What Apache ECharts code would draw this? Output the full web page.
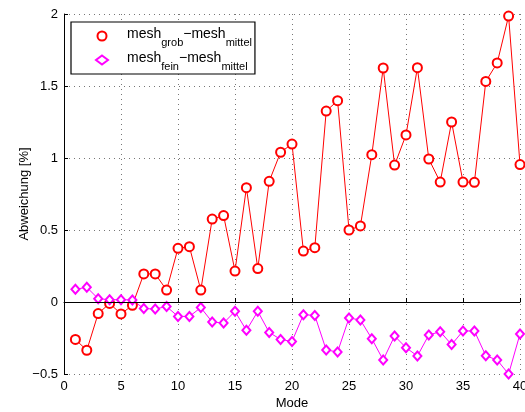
<!DOCTYPE html>
<html>
<head>
<meta charset="utf-8">
<script src="https://cdn.jsdelivr.net/npm/echarts@6/dist/echarts.min.js"></script>
<style>html,body{margin:0;padding:0;background:#fff}#c{width:525px;height:412px}</style>
</head>
<body>
<div id="c"></div>
<script>
const modes = Array.from({length: 40}, (_, i) => i + 1);
const grob = [-0.26, -0.335, -0.08, -0.01, -0.083, -0.023, 0.195, 0.195, 0.083, 0.373,
  0.384, 0.083, 0.576, 0.60, 0.215, 0.794, 0.232, 0.838, 1.04, 1.097,
  0.354, 0.377, 1.326, 1.398, 0.50, 0.528, 1.023, 1.625, 0.951, 1.16,
  1.627, 0.993, 0.833, 1.25, 0.833, 0.831, 1.532, 1.66, 1.986, 0.954];
const fein = [0.088, 0.102, 0.023, 0.016, 0.016, 0.014, -0.046, -0.048, -0.032, -0.10,
  -0.10, -0.039, -0.139, -0.146, -0.065, -0.197, -0.065, -0.211, -0.26, -0.274,
  -0.088, -0.093, -0.333, -0.347, -0.111, -0.125, -0.255, -0.403, -0.236, -0.317,
  -0.375, -0.229, -0.206, -0.296, -0.201, -0.201, -0.373, -0.403, -0.50, -0.222];
const xTicks = [0, 5, 10, 15, 20, 25, 30, 35, 40];
const yTicks = [-0.5, 0, 0.5, 1, 1.5, 2];

const chart = echarts.init(document.getElementById('c'), null, {renderer: 'canvas'});
const fontFam = 'Liberation Sans, Arial, sans-serif';
const rich = {
  a: {fontSize: 14, fontFamily: fontFam, color: '#000', lineHeight: 20, height: 20, verticalAlign: 'top'},
  s: {fontSize: 11, fontFamily: fontFam, color: '#000', lineHeight: 24, verticalAlign: 'bottom'}
};
chart.setOption({
  animation: false,
  grid: {left: 64, right: 5, top: 14, bottom: 38, containLabel: false, outerBoundsMode: 'none'},
  legend: {
    left: 71, top: 22, orient: 'vertical',
    padding: [2, 3, 2, 24],
    itemGap: 0,
    itemWidth: 12, itemHeight: 9,
    borderColor: '#000', borderWidth: 1.2,
    backgroundColor: '#fff',
    data: [
      {name: 'grob', icon: 'emptyCircle'},
      {name: 'fein', icon: 'emptyDiamond'}
    ],
    textStyle: {rich: rich, padding: [0, 0, 0, 14]},
    formatter: function (n) {
      return n === 'grob' ? '{a|mesh}{s|grob}{a|\u2212mesh}{s|mittel}'
                          : '{a|mesh}{s|fein}{a|\u2212mesh}{s|mittel}';
    }
  },
  xAxis: {
    type: 'value', min: 0, max: 40, interval: 5,
    name: 'Mode', nameLocation: 'middle', nameGap: 23, nameMoveOverlap: false,
    nameTextStyle: {fontSize: 13, fontFamily: fontFam, color: '#000'},
    axisLine: {lineStyle: {color: '#000', width: 1}},
    axisTick: {inside: true, length: 4, lineStyle: {color: '#000'}},
    axisLabel: {fontSize: 13, fontFamily: fontFam, color: '#000', margin: 6},
    splitLine: {show: true, lineStyle: {color: '#777', type: [1, 4], width: 1}}
  },
  yAxis: {
    type: 'value', min: -0.5, max: 2, interval: 0.5,
    name: 'Abweichung [%]', nameLocation: 'middle', nameGap: 33, nameMoveOverlap: false,
    nameTextStyle: {fontSize: 13, fontFamily: fontFam, color: '#000'},
    axisLine: {show: true, lineStyle: {color: '#000', width: 1}},
    axisTick: {show: true, inside: true, length: 4, lineStyle: {color: '#000'}},
    axisLabel: {fontSize: 13, fontFamily: fontFam, color: '#000', margin: 6,
      formatter: v => String(v).replace('-', '\u2212')},
    splitLine: {show: true, lineStyle: {color: '#777', type: [1, 4], width: 1}}
  },
  series: [
    {
      name: 'grob', type: 'line',
      data: modes.map((m, i) => [m, grob[i]]),
      symbol: 'emptyCircle', symbolSize: 9,
      lineStyle: {color: '#ff0000', width: 1},
      itemStyle: {color: '#ff0000', borderColor: '#ff0000', borderWidth: 1},
      markLine: {
        silent: true, symbol: 'none', label: {show: false},
        lineStyle: {color: '#000', type: 'solid', width: 1.2},
        data: [{yAxis: 0}]
      },
      z: 3
    },
    {
      name: 'fein', type: 'line',
      data: modes.map((m, i) => [m, fein[i]]),
      symbol: 'emptyDiamond', symbolSize: [8, 9],
      lineStyle: {color: '#ff00ff', width: 1},
      itemStyle: {color: '#ff00ff', borderColor: '#ff00ff', borderWidth: 1},
      z: 3
    }
  ]
});
</script>
</body>
</html>
